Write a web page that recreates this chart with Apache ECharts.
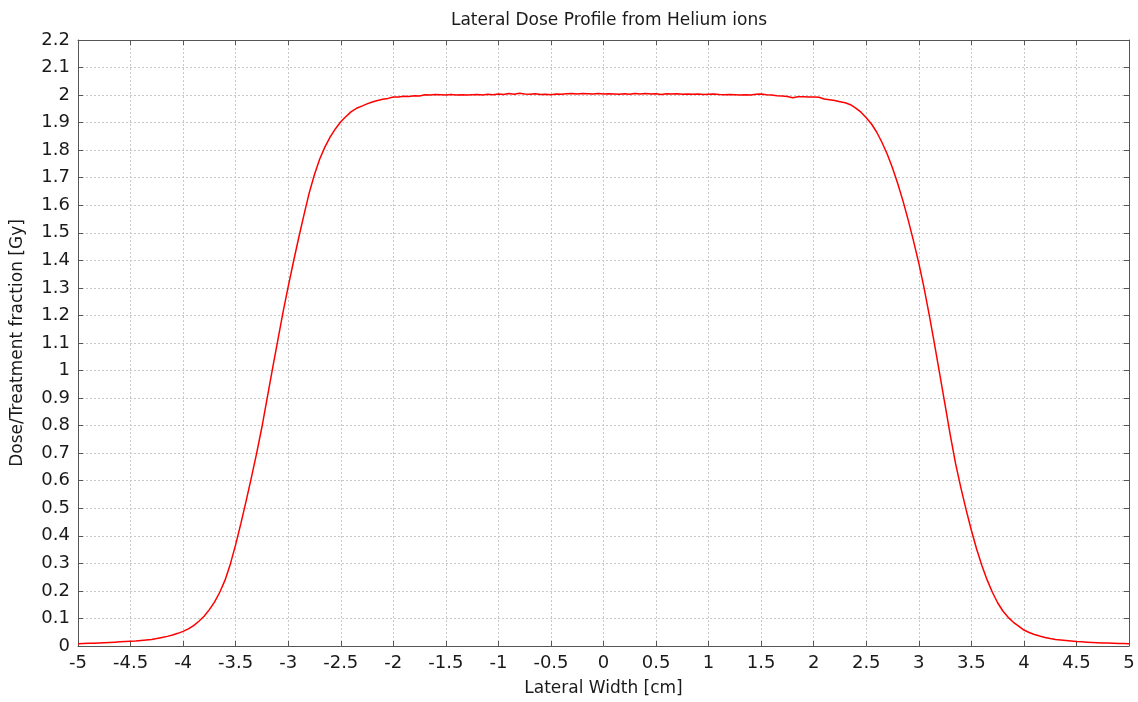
<!DOCTYPE html>
<html>
<head>
<meta charset="utf-8">
<script src="https://cdn.jsdelivr.net/npm/echarts@6/dist/echarts.min.js"></script>
<style>
  html, body { margin: 0; padding: 0; background: #ffffff; }
  #chart { width: 1138px; height: 702px; }
</style>
</head>
<body>
<div id="chart"></div>
<script>
// Lateral position of each sample [cm]
const lateralWidth = [
  -5.00,-4.95,-4.90,-4.85,-4.80,-4.75,-4.70,-4.65,-4.60,-4.55,
  -4.50,-4.45,-4.40,-4.35,-4.30,-4.25,-4.20,-4.15,-4.10,-4.05,
  -4.00,-3.95,-3.90,-3.85,-3.80,-3.75,-3.70,-3.65,-3.60,-3.55,
  -3.50,-3.45,-3.40,-3.35,-3.30,-3.25,-3.20,-3.15,-3.10,-3.05,
  -3.00,-2.95,-2.90,-2.85,-2.80,-2.75,-2.70,-2.65,-2.60,-2.55,
  -2.50,-2.45,-2.40,-2.35,-2.30,-2.25,-2.20,-2.15,-2.10,-2.05,
  -2.00,-1.95,-1.90,-1.85,-1.80,-1.75,-1.70,-1.65,-1.60,-1.55,
  -1.50,-1.45,-1.40,-1.35,-1.30,-1.25,-1.20,-1.15,-1.10,-1.05,
  -1.00,-0.95,-0.90,-0.85,-0.80,-0.75,-0.70,-0.65,-0.60,-0.55,
  -0.50,-0.45,-0.40,-0.35,-0.30,-0.25,-0.20,-0.15,-0.10,-0.05,
   0.00, 0.05, 0.10, 0.15, 0.20, 0.25, 0.30, 0.35, 0.40, 0.45,
   0.50, 0.55, 0.60, 0.65, 0.70, 0.75, 0.80, 0.85, 0.90, 0.95,
   1.00, 1.05, 1.10, 1.15, 1.20, 1.25, 1.30, 1.35, 1.40, 1.45,
   1.50, 1.55, 1.60, 1.65, 1.70, 1.75, 1.80, 1.85, 1.90, 1.95,
   2.00, 2.05, 2.10, 2.15, 2.20, 2.25, 2.30, 2.35, 2.40, 2.45,
   2.50, 2.55, 2.60, 2.65, 2.70, 2.75, 2.80, 2.85, 2.90, 2.95,
   3.00, 3.05, 3.10, 3.15, 3.20, 3.25, 3.30, 3.35, 3.40, 3.45,
   3.50, 3.55, 3.60, 3.65, 3.70, 3.75, 3.80, 3.85, 3.90, 3.95,
   4.00, 4.05, 4.10, 4.15, 4.20, 4.25, 4.30, 4.35, 4.40, 4.45,
   4.50, 4.55, 4.60, 4.65, 4.70, 4.75, 4.80, 4.85, 4.90, 4.95,
   5.00
];

// Dose per treatment fraction [Gy] at each lateral position
const dose = [
  0.008,0.009,0.010,0.010,0.011,0.012,0.013,0.014,0.015,0.016,
  0.017,0.018,0.020,0.022,0.024,0.027,0.031,0.035,0.040,0.046,
  0.053,0.062,0.074,0.090,0.108,0.132,0.160,0.196,0.240,0.298,
  0.368,0.445,0.527,0.612,0.700,0.795,0.900,1.005,1.108,1.210,
  1.305,1.395,1.482,1.565,1.645,1.712,1.768,1.812,1.848,1.878,
  1.903,1.922,1.940,1.952,1.960,1.968,1.975,1.980,1.985,1.988,
  1.993,1.993,1.996,1.995,1.998,1.997,2.001,2.000,2.002,2.001,
  2.000,2.002,2.000,2.001,2.000,2.001,2.002,2.000,2.003,2.001,
  2.004,2.002,2.006,2.003,2.007,2.004,2.003,2.005,2.002,2.003,
  2.001,2.004,2.003,2.005,2.006,2.004,2.006,2.005,2.004,2.006,
  2.004,2.005,2.004,2.003,2.005,2.003,2.006,2.004,2.006,2.004,
  2.005,2.002,2.005,2.004,2.005,2.003,2.004,2.003,2.004,2.002,
  2.003,2.004,2.002,2.001,2.002,2.001,2.000,2.001,2.000,2.003,
  2.004,2.001,2.000,1.998,1.997,1.995,1.990,1.994,1.994,1.993,
  1.993,1.992,1.986,1.983,1.980,1.976,1.972,1.965,1.953,1.938,
  1.918,1.895,1.865,1.828,1.785,1.735,1.678,1.615,1.545,1.470,
  1.390,1.300,1.200,1.095,0.985,0.875,0.765,0.662,0.575,0.495,
  0.420,0.352,0.292,0.240,0.195,0.157,0.127,0.104,0.086,0.072,
  0.058,0.049,0.042,0.036,0.031,0.027,0.024,0.022,0.020,0.018,
  0.016,0.015,0.014,0.013,0.012,0.011,0.011,0.010,0.009,0.009,
  0.008
];

const chartTitle = 'Lateral Dose Profile from Helium ions';
const xAxisName = 'Lateral Width [cm]';
const yAxisName = 'Dose/Treatment fraction [Gy]';

const points = lateralWidth.map((x, i) => [x, dose[i]]);

const FONT = 'DejaVu Sans';
const TEXT = '#1a1a1a';
const AXIS = '#555555';
const fmt = v => String(parseFloat(v.toFixed(1)));

const chart = echarts.init(document.getElementById('chart'), null, { renderer: 'canvas' });

chart.setOption({
  backgroundColor: '#ffffff',
  animation: false,
  title: {
    text: chartTitle,
    left: 604,
    textAlign: 'center',
    top: 7,
    textStyle: { fontFamily: FONT, fontSize: 17, fontWeight: 'normal', color: TEXT }
  },
  grid: { left: 78, right: 9, top: 40, bottom: 56, containLabel: false, outerBoundsMode: 'none' },
  xAxis: [
    {
      type: 'value', min: -5, max: 5, interval: 0.5, position: 'bottom',
      name: xAxisName, nameLocation: 'middle', nameGap: 34,
      nameTextStyle: { fontFamily: FONT, fontSize: 17, color: TEXT },
      axisLine: { show: true, onZero: false, lineStyle: { color: AXIS, width: 1 } },
      axisTick: { show: true, inside: true, length: 5, lineStyle: { color: AXIS } },
      axisLabel: { fontFamily: FONT, fontSize: 18, color: TEXT, margin: 8, formatter: fmt },
      splitLine: { show: true, lineStyle: { color: '#c8c8c8', type: [2, 2], width: 1 } }
    },
    {
      type: 'value', min: -5, max: 5, interval: 0.5, position: 'top',
      axisLine: { show: true, onZero: false, lineStyle: { color: AXIS, width: 1 } },
      axisTick: { show: true, inside: true, length: 5, lineStyle: { color: AXIS } },
      axisLabel: { show: false },
      splitLine: { show: false }
    }
  ],
  yAxis: [
    {
      type: 'value', min: 0, max: 2.2, interval: 0.1, position: 'left',
      name: yAxisName, nameLocation: 'middle', nameGap: 52,
      nameTextStyle: { fontFamily: FONT, fontSize: 17, color: TEXT },
      axisLine: { show: true, onZero: false, lineStyle: { color: AXIS, width: 1 } },
      axisTick: { show: true, inside: true, length: 5, lineStyle: { color: AXIS } },
      axisLabel: { fontFamily: FONT, fontSize: 18, color: TEXT, margin: 8, formatter: fmt },
      splitLine: { show: true, lineStyle: { color: '#c8c8c8', type: [2, 2], width: 1 } }
    },
    {
      type: 'value', min: 0, max: 2.2, interval: 0.1, position: 'right',
      axisLine: { show: true, onZero: false, lineStyle: { color: AXIS, width: 1 } },
      axisTick: { show: true, inside: true, length: 5, lineStyle: { color: AXIS } },
      axisLabel: { show: false },
      splitLine: { show: false }
    }
  ],
  series: [
    {
      type: 'line',
      xAxisIndex: 0,
      yAxisIndex: 0,
      data: points,
      showSymbol: false,
      smooth: false,
      lineStyle: { color: '#ff0000', width: 1.5 },
      z: 5
    }
  ]
});
</script>
</body>
</html>
